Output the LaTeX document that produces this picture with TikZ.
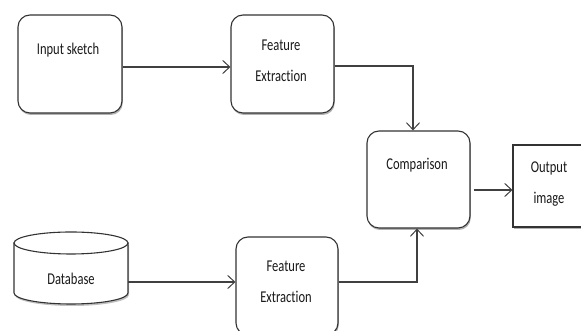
\documentclass[tikz,border=0pt]{standalone}
\usepackage{fontspec}
\setmainfont{Carlito}[Ligatures={NoCommon}]
\usepackage{graphicx}
\usetikzlibrary{arrows.meta,shadows}
\newcommand\sqz[1]{\scalebox{0.76}[1]{#1}}
\tikzset{
  shad/.style={drop shadow={shadow xshift=0.8pt, shadow yshift=-2pt, opacity=0.3, fill=black}},
  box/.style={draw=black!80, line width=1.1pt, rounded corners=12pt, fill=white, shad, inner sep=0pt},
  sqbox/.style={draw=black!80, line width=1.1pt, fill=white, shad, inner sep=0pt},
  lbl/.style={font=\fontsize{16.5}{31}\selectfont, text=black!90, align=center, inner sep=0pt},
  arr/.style={draw=black!75, line width=1.1pt, -{Straight Barb[length=7pt,width=13pt,line width=1pt]}},
  cyl/.style={draw=black!80, line width=1.1pt, fill=white},
}
\begin{document}
\begin{tikzpicture}[x=1pt,y=1pt]
\useasboundingbox (0,0) rectangle (581,331);
% boxes
\node[box, minimum width=104pt, minimum height=98pt] (in) at (70,267) {};
\node[lbl, anchor=base] (intxt) at (68,276) {\sqz{Input sketch}};
\node[box, minimum width=103pt, minimum height=98pt] (fe1) at (282.5,267) {};
\node[lbl] (fe1txt) at (281,270.2) {\sqz{Feature}\\\sqz{Extraction}};
\node[box, minimum width=103pt, minimum height=97pt] (cmp) at (418.5,151.5) {};
\node[lbl, anchor=base] (cmptxt) at (417,161) {\sqz{Comparison}};
\node[sqbox, minimum width=72pt, minimum height=82pt] (out) at (549,145) {};
\node[lbl] (outtxt) at (549,146.5) {\sqz{Output}\\\sqz{image}};
\node[box, minimum width=102pt, minimum height=98pt] (fe2) at (287,45) {};
\node[lbl] (fe2txt) at (286,48.8) {\sqz{Feature}\\\sqz{Extraction}};
% database cylinder
\node[minimum width=114pt, minimum height=73pt, inner sep=0pt] (db) at (71,62.5) {};
\fill[black, opacity=0.25] (15,86) -- (15,36) arc[start angle=180, end angle=360, x radius=57pt, y radius=11pt] -- (129,86) -- cycle;
\draw[cyl] (14,88) -- (14,38) arc[start angle=180, end angle=360, x radius=57pt, y radius=11pt] -- (128,88) -- cycle;
\draw[cyl] (71,88) ellipse [x radius=57pt, y radius=11pt];
\node[lbl, anchor=base] (dbtxt) at (71,46) {\sqz{Database}};
% connectors
\coordinate (s1) at ([yshift=-3pt]in.east);
\draw[arr] (s1) -- (s1 -| fe1.west);
\coordinate (s2) at ([yshift=-2pt]fe1.east);
\draw[arr] (s2) -| ([xshift=-5.5pt]cmp.north);
\coordinate (s3) at ([xshift=3pt,yshift=-10.5pt]cmp.east);
\draw[arr] (s3) -- (s3 -| out.west);
\coordinate (s4) at ([yshift=-13.5pt]db.east);
\draw[arr] (s4) -- (s4 -| fe2.west);
\coordinate (s5) at ([yshift=4pt]fe2.east);
\draw[arr] (s5) -| ([xshift=-1.5pt]cmp.south);
\end{tikzpicture}
\end{document}
